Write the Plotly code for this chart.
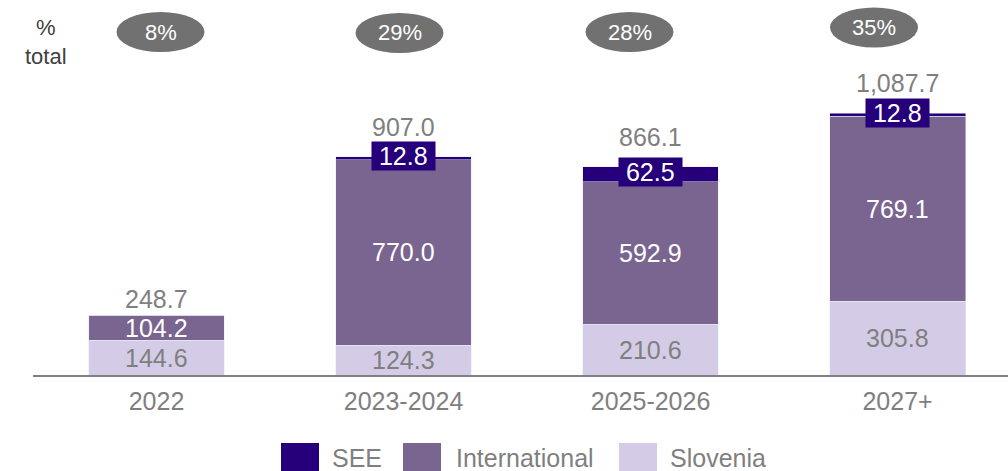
import plotly.graph_objects as go

# Investment by region and period (EUR m)
periods = ["2022", "2023-2024", "2025-2026", "2027+"]
slovenia = [144.6, 124.3, 210.6, 305.8]
international = [104.2, 770.0, 592.9, 769.1]
see = [0.0, 12.8, 62.5, 12.8]
see_labels = ["", "12.8", "62.5", "12.8"]
totals = [248.7, 907.0, 866.1, 1087.7]
share_of_total = ["8%", "29%", "28%", "35%"]

C_SEE = "#25007a"
C_INT = "#7a6591"
C_SLO = "#d4cce6"
C_TXT = "#7f7f7f"
C_BUBBLE = "#717171"
FONT = "Liberation Sans, Arial, sans-serif"

W, H = 1008, 471
ML, MB = 33, 96
plot_w, plot_h = W - ML, H - MB
x_range = [-0.5, 3.447]
y_range = [0, 1559]

xs = list(range(len(periods)))
bar_w = 0.55

fig = go.Figure()
fig.add_trace(go.Bar(x=xs, y=slovenia, name="Slovenia", marker_color=C_SLO,
                     width=bar_w, hoverinfo="skip"))
fig.add_trace(go.Bar(x=xs, y=international, name="International", marker_color=C_INT,
                     width=bar_w, hoverinfo="skip"))
fig.add_trace(go.Bar(x=xs, y=see, name="SEE", marker_color=C_SEE,
                     width=bar_w, hoverinfo="skip"))

ann = []
for i, x in enumerate(xs):
    # segment labels
    ann.append(dict(x=x, y=slovenia[i] / 2, text=f"{slovenia[i]:.1f}", showarrow=False,
                    xanchor="center", yanchor="middle",
                    font=dict(family=FONT, size=25, color=C_TXT)))
    ann.append(dict(x=x, y=slovenia[i] + international[i] / 2, text=f"{international[i]:.1f}",
                    showarrow=False, xanchor="center", yanchor="middle",
                    font=dict(family=FONT, size=25, color="white")))
    if see_labels[i]:
        ann.append(dict(x=x, y=slovenia[i] + international[i] + see[i] / 2 + 8,
                        text="&nbsp;" + see_labels[i] + "&nbsp;", showarrow=False,
                        bgcolor=C_SEE, borderpad=0,
                        xanchor="center", yanchor="middle",
                        font=dict(family=FONT, size=25, color="white")))
    # totals
    ann.append(dict(x=x, y=totals[i], text=f"{totals[i]:,.1f}", showarrow=False,
                    xanchor="center", yanchor="bottom", yshift=(14 if see_labels[i] else 0),
                    font=dict(family=FONT, size=25, color=C_TXT)))


def px_x(p):
    return (p - ML) / plot_w


def px_y(p):
    return (plot_h - p) / plot_h


# share-of-total bubbles
bubble_centers = [(160.5, 32), (399.5, 33), (629.5, 32), (874, 27.5)]
shapes = []
for (cx, cy), label in zip(bubble_centers, share_of_total):
    shapes.append(dict(type="circle", xref="paper", yref="paper",
                       x0=px_x(cx - 44), x1=px_x(cx + 44),
                       y0=px_y(cy + 20), y1=px_y(cy - 20),
                       fillcolor=C_BUBBLE, line=dict(width=0), layer="below"))
    ann.append(dict(xref="paper", yref="paper", x=px_x(cx), y=px_y(cy), text=label,
                    showarrow=False, xanchor="center", yanchor="middle",
                    font=dict(family=FONT, size=22, color="white")))

ann.append(dict(xref="paper", yref="paper", x=px_x(46), y=px_y(42),
                text="%<br>total", showarrow=False, align="center",
                xanchor="center", yanchor="middle",
                font=dict(family=FONT, size=22, color="#404040")))

# legend drawn below the axis
legend_items = [("SEE", C_SEE, 281, 330), ("International", C_INT, 403, 454),
                ("Slovenia", C_SLO, 619, 668)]
for name, col, sx, tx in legend_items:
    shapes.append(dict(type="rect", xref="paper", yref="paper",
                       x0=px_x(sx), x1=px_x(sx + 38), y0=px_y(471), y1=px_y(443),
                       fillcolor=col, line=dict(width=0)))
    ann.append(dict(xref="paper", yref="paper", x=px_x(tx), y=px_y(458),
                    xanchor="left", yanchor="middle",
                    text=name, showarrow=False,
                    font=dict(family=FONT, size=25, color=C_TXT)))

fig.update_layout(
    barmode="stack",
    width=W, height=H,
    margin=dict(l=ML, r=0, t=0, b=MB),
    plot_bgcolor="white", paper_bgcolor="white",
    showlegend=False,
    annotations=ann, shapes=shapes,
    xaxis=dict(range=x_range, tickvals=xs, ticktext=periods, showgrid=False,
               zeroline=False, showline=True, linecolor="#808080", linewidth=2,
               ticks="", ticklabelstandoff=3,
               tickfont=dict(family=FONT, size=25, color=C_TXT)),
    yaxis=dict(range=y_range, visible=False, showgrid=False, zeroline=False),
)

fig.write_html("out.html")
